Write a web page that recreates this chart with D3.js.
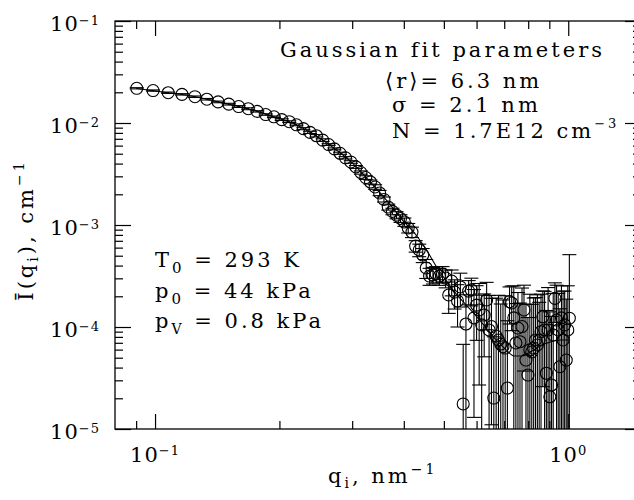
<!DOCTYPE html>
<html>
<head>
<meta charset="utf-8">
<script src="https://cdn.jsdelivr.net/npm/d3@7"></script>
<style>
  body { margin: 0; background: #fff; }
  text { font-family: "DejaVu Serif", serif; fill: #000; }
</style>
</head>
<body>
<div id="chart"></div>
<script>
// Measured points: scattering vector q (nm^-1)
var qValues = [
    0.0903, 0.0989, 0.1076, 0.1162, 0.1249, 0.1335, 0.1421, 0.1508, 0.1594, 0.1681,
    0.1767, 0.1853, 0.1940, 0.2026, 0.2113, 0.2199, 0.2285, 0.2372, 0.2458, 0.2545,
    0.2631, 0.2717, 0.2804, 0.2890, 0.2977, 0.3063, 0.3149, 0.3236, 0.3322, 0.3409,
    0.3495, 0.3581, 0.3668, 0.3754, 0.3841, 0.3927, 0.4013, 0.4100, 0.4186, 0.4273,
    0.4359, 0.4445, 0.4532, 0.4618, 0.4705, 0.4791, 0.4877, 0.4964, 0.5050, 0.5137,
    0.5223, 0.5309, 0.5396, 0.5482, 0.5569, 0.5655, 0.5741, 0.5828, 0.5914, 0.6001,
    0.6087, 0.6173, 0.6260, 0.6346, 0.6433, 0.6519, 0.6605, 0.6692, 0.6778, 0.6865,
    0.6951, 0.7037, 0.7124, 0.7210, 0.7297, 0.7383, 0.7469, 0.7556, 0.7642, 0.7729,
    0.7815, 0.7901, 0.7988, 0.8074, 0.8161, 0.8247, 0.8333, 0.8420, 0.8506, 0.8593,
    0.8679, 0.8765, 0.8852, 0.8938, 0.9025, 0.9111, 0.9197, 0.9284, 0.9370, 0.9457,
    0.9543, 0.9629, 0.9716, 0.9802, 0.9889, 0.9975, 1.0062
];

// Measured intensity (cm^-1)
var intensity = [
    2.19e-2, 2.08e-2, 1.98e-2, 1.91e-2, 1.81e-2, 1.71e-2, 1.61e-2, 1.53e-2, 1.45e-2, 1.38e-2,
    1.30e-2, 1.21e-2, 1.15e-2, 1.08e-2, 1.03e-2, 9.6e-3, 8.8e-3, 8.1e-3, 7.5e-3, 6.8e-3,
    6.15e-3, 5.58e-3, 5.05e-3, 4.56e-3, 4.15e-3, 3.71e-3, 3.27e-3, 2.92e-3, 2.64e-3, 2.36e-3,
    2.06e-3, 1.78e-3, 1.50e-3, 1.36e-3, 1.25e-3, 1.16e-3, 1.07e-3, 9.35e-4, 8.53e-4, 6.22e-4,
    5.69e-4, 5.08e-4, 3.79e-4, 3.16e-4, 3.24e-4, 3.31e-4, 3.16e-4, 3.31e-4, 3.02e-4, 2.06e-4,
    2.82e-4, 2.20e-4, 1.80e-4, 2.47e-4, 1.76e-5, 1.07e-4, 2.25e-4, 2.31e-4, 1.23e-4, 1.64e-4,
    1.47e-4, 1.05e-4, 1.31e-4, 1.84e-4, 9.35e-5, 1.01e-4, 2.01e-5, 8.16e-5, 7.46e-5, 6.81e-5,
    6.41e-5, 6.22e-5, 2.52e-5, 1.77e-4, 1.72e-4, 1.23e-4, 6.97e-5, 9.77e-5, 7.18e-5, 1.01e-4,
    1.47e-4, 4.74e-5, 3.38e-5, 5.96e-5, 5.69e-5, 6.22e-5, 7.46e-5, 6.67e-5, 7.46e-5, 8.99e-5,
    1.26e-4, 9.35e-5, 3.52e-5, 9.35e-5, 2.07e-5, 2.70e-5, 8.35e-5, 1.91e-4, 1.17e-4, 9.35e-5,
    4.08e-5, 1.23e-4, 7.46e-5, 1.05e-4, 4.74e-5, 9.35e-5, 1.22e-4
];

// Error of each point (cm^-1)
var intensityErr = [
    3e-4, 3e-4, 3e-4, 3e-4, 3e-4, 3e-4, 3e-4, 3e-4, 3e-4, 3e-4,
    2e-4, 2e-4, 2e-4, 2e-4, 2e-4, 2e-4, 2e-4, 2e-4, 2e-4, 2e-4,
    1.2e-4, 1.2e-4, 1.2e-4, 1.2e-4, 1.2e-4, 1.2e-4, 1.2e-4, 1.2e-4, 1.2e-4, 1.2e-4,
    1.2e-4, 1e-4, 1e-4, 1e-4, 1e-4, 1e-4, 1e-4, 1e-4, 1e-4, 8e-5,
    8e-5, 8e-5, 8e-5, 6e-5, 6e-5, 6e-5, 6e-5, 6e-5, 6e-5, 7e-5,
    8e-5, 7e-5, 8e-5, 9e-5, 5e-5, 1.0e-4, 6e-5, 7e-5, 1.1e-4, 9e-5,
    1.2e-4, 1.0e-4, 8e-5, 9e-5, 1.1e-4, 9e-5, 6e-5, 1.1e-4, 1.3e-4, 1.0e-4,
    1.2e-4, 1.4e-4, 9e-5, 7e-5, 8e-5, 1.3e-4, 1.0e-4, 1.2e-4, 1.0e-4, 1.4e-4,
    1.1e-4, 1.2e-4, 9e-5, 1.5e-4, 1.1e-4, 1.3e-4, 1.2e-4, 1.4e-4, 1.0e-4, 1.2e-4,
    1.0e-4, 1.3e-4, 1.1e-4, 1.5e-4, 1.2e-4, 1.0e-4, 1.3e-4, 8e-5, 1.4e-4, 1.2e-4,
    1.1e-4, 1.3e-4, 1.5e-4, 1.2e-4, 1.4e-4, 1.6e-4, 3.9e-4
];

// Gaussian fit curve
var fitQ = [0.0903, 0.1075, 0.125, 0.142, 0.169, 0.194, 0.2195, 0.2454, 0.2729, 0.2983,
    0.3243, 0.3505, 0.3748, 0.4008, 0.4263, 0.4507, 0.4818, 0.5093, 0.5356, 0.5662,
    0.5988, 0.6331, 0.6694, 0.7078, 0.7398, 0.7738, 0.8091, 0.8554, 0.9045, 0.9563, 1.0056];
var fitI = [2.18e-2, 1.98e-2, 1.81e-2, 1.61e-2, 1.37e-2, 1.15e-2, 9.6e-3, 7.46e-3, 5.56e-3, 4.15e-3,
    2.92e-3, 2.06e-3, 1.50e-3, 1.07e-3, 8.16e-4, 5.96e-4, 3.79e-4, 2.76e-4, 2.11e-4, 1.64e-4,
    1.28e-4, 9.77e-5, 7.46e-5, 5.96e-5, 5.20e-5, 5.20e-5, 5.69e-5, 6.52e-5, 7.13e-5, 7.46e-5, 7.46e-5];

// Tick labels (mantissa 10, exponent)
var xTickValues = [0.1, 1];
var xTickExp = ["\u22121", "0"];
var yTickValues = [1e-1, 1e-2, 1e-3, 1e-4, 1e-5];
var yTickExp = ["\u22121", "\u22122", "\u22123", "\u22124", "\u22125"];

// Text blocks: [text, "" | "sub" | "sup"]
var fitTitle = [["Gaussian fit parameters", ""]];
var fitRadius = [["\u27E8r\u27E9= 6.3 nm", ""]];
var fitSigma = [["\u03C3 = 2.1 nm", ""]];
var fitN = [["N = 1.7E12 cm", ""], ["\u22123", "sup"]];
var condT = [["T", ""], ["0", "sub"], [" = 293 K", ""]];
var condP0 = [["p", ""], ["0", "sub"], [" = 44 kPa", ""]];
var condPv = [["p", ""], ["V", "sub"], [" = 0.8 kPa", ""]];
var xLabel = [["q", ""], ["i", "sub"], [",  nm", ""], ["\u22121", "sup"]];
var yLabel = [["\u012A(q", ""], ["i", "sub"], ["), cm", ""], ["\u22121", "sup"]];

var W = 634, H = 500;
var plotL = 115, plotT = 21, plotR = 641, plotB = 429;

var svg = d3.select("#chart").append("svg")
    .attr("width", W)
    .attr("height", H);

var x = d3.scaleLog().domain([0.08, 1.5]).range([plotL, plotR]);
var y = d3.scaleLog().domain([1e-5, 1e-1]).range([plotB, plotT]);

function isMajor(v) {
    var l = Math.log10(v);
    return Math.abs(l - Math.round(l)) < 1e-6;
}
var xMinor = x.ticks().filter(function(v) { return !isMajor(v) && v > 0.081; });
var yMinor = y.ticks().filter(function(v) { return !isMajor(v); });

// clip for data
svg.append("clipPath").attr("id", "plotclip")
    .append("rect")
    .attr("x", plotL).attr("y", plotT)
    .attr("width", plotR - plotL).attr("height", plotB - plotT);

var plot = svg.append("g").attr("clip-path", "url(#plotclip)");

// error bars
var bars = plot.append("g")
    .attr("stroke", "#000")
    .attr("stroke-width", 1.1)
    .attr("fill", "none");

qValues.forEach(function(q, i) {
    var I = intensity[i], e = intensityErr[i];
    var px = x(q);
    var yTop = y(I + e);
    var low = I - e;
    var yBot = low > 1e-5 ? y(low) : plotB + 5;
    bars.append("line")
        .attr("x1", px).attr("x2", px)
        .attr("y1", yTop).attr("y2", yBot);
    bars.append("line")
        .attr("x1", px - 7).attr("x2", px + 7)
        .attr("y1", yTop).attr("y2", yTop);
    if (low > 1e-5) {
        bars.append("line")
            .attr("x1", px - 7).attr("x2", px + 7)
            .attr("y1", yBot).attr("y2", yBot);
    }
});

// fit line
var fitLine = d3.line()
    .x(function(d) { return x(d[0]); })
    .y(function(d) { return y(d[1]); })
    .curve(d3.curveMonotoneX);

plot.append("path")
    .datum(fitQ.map(function(q, i) { return [q, fitI[i]]; }))
    .attr("d", fitLine)
    .attr("fill", "none")
    .attr("stroke", "#000")
    .attr("stroke-width", 1.1);

// circles
plot.append("g").selectAll("circle")
    .data(qValues)
    .enter()
    .append("circle")
    .attr("cx", function(d) { return x(d); })
    .attr("cy", function(d, i) { return y(intensity[i]); })
    .attr("r", 6)
    .attr("fill", "none")
    .attr("stroke", "#000")
    .attr("stroke-width", 1.1);

// axes: ticks pointing inward on all four sides
function tickAxis(axis, values, size, tx, ty) {
    var g = svg.append("g")
        .attr("transform", "translate(" + tx + "," + ty + ")")
        .call(axis.tickValues(values).tickSize(size).tickFormat(""));
    g.select(".domain").remove();
    g.selectAll("line").attr("stroke", "#000").attr("stroke-width", 1.2);
}
tickAxis(d3.axisBottom(x), xTickValues, -15, 0, plotB);
tickAxis(d3.axisBottom(x), xMinor, -8, 0, plotB);
tickAxis(d3.axisTop(x), xTickValues, -15, 0, plotT);
tickAxis(d3.axisTop(x), xMinor, -8, 0, plotT);
tickAxis(d3.axisLeft(y), yTickValues, -16, plotL, 0);
tickAxis(d3.axisLeft(y), yMinor, -8, plotL, 0);
tickAxis(d3.axisRight(y), yTickValues, -16, plotR, 0);
tickAxis(d3.axisRight(y), yMinor, -8, plotR, 0);

svg.append("rect")
    .attr("x", plotL).attr("y", plotT)
    .attr("width", plotR - plotL).attr("height", plotB - plotT)
    .attr("fill", "none")
    .attr("stroke", "#000")
    .attr("stroke-width", 1.3);

// text with sub/superscripts
function richText(parent, px, py, parts, opt) {
    opt = opt || {};
    var size = opt.size || 21, small = opt.small || 14;
    var t = parent.append("text")
        .attr("x", px).attr("y", py)
        .style("font-size", size + "px")
        .style("letter-spacing", (opt.spacing == null ? 3 : opt.spacing) + "px")
        .attr("text-anchor", opt.anchor || "start");
    if (opt.transform) t.attr("transform", opt.transform);
    var shift = 0;
    parts.forEach(function(p) {
        var target = p[1] === "sup" ? -(opt.supShift || 10) : p[1] === "sub" ? (opt.subShift || 6) : 0;
        var ts = t.append("tspan").attr("dy", target - shift).text(p[0]);
        if (p[1]) ts.style("font-size", small + "px");
        shift = target;
    });
    return t;
}

// tick labels
xTickValues.forEach(function(v, i) {
    richText(svg, x(v), 461.5, [["10", ""], [xTickExp[i], "sup"]],
        { anchor: "middle", spacing: 1, small: 13, supShift: 7 });
});
yTickValues.forEach(function(v, i) {
    richText(svg, 100, y(v) + 10, [["10", ""], [yTickExp[i], "sup"]],
        { anchor: "end", spacing: 1, small: 13, supShift: 6 });
});

// annotations
richText(svg, 280, 57, fitTitle);
richText(svg, 385, 88, fitRadius);
richText(svg, 392, 112, fitSigma);
richText(svg, 392, 138, fitN, { small: 13, supShift: 10 });
richText(svg, 155, 267, condT, { small: 15 });
richText(svg, 155, 298, condP0, { small: 15 });
richText(svg, 155, 328, condPv, { small: 14 });

// axis labels
richText(svg, 328, 483, xLabel, { small: 14, supShift: 9, subShift: 5 });
richText(svg, 0, 0, yLabel, {
    anchor: "middle", small: 14, supShift: 9, subShift: 5,
    transform: "translate(33,230) rotate(-90)"
});
</script>
</body>
</html>
